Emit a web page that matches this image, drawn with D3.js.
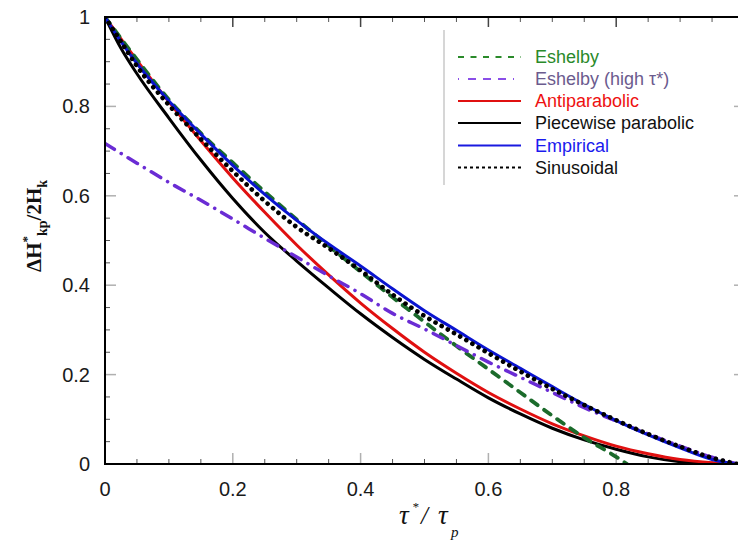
<!DOCTYPE html>
<html><head><meta charset="utf-8">
<script src="https://cdn.jsdelivr.net/npm/d3@7"></script>
<style>body{margin:0;background:#fff}svg{display:block}</style>
</head><body>
<script>
// ---- data ----
const xGrid = [0,0.025,0.05,0.1,0.15,0.2,0.25,0.3,0.35,0.4,0.45,0.5,0.55,0.6,0.65,0.7,0.75,0.8,0.85,0.9,0.95];
const piecewise   = [1,0.930,0.873,0.774,0.680,0.594,0.518,0.454,0.394,0.336,0.283,0.234,0.190,0.148,0.112,0.080,0.054,0.033,0.016,0.005,0.0];
const antiparab   = [1,0.951,0.903,0.810,0.723,0.640,0.563,0.490,0.423,0.360,0.303,0.250,0.203,0.160,0.123,0.090,0.063,0.040,0.023,0.010,0.003];
const empirical   = [1,0.945,0.896,0.812,0.738,0.668,0.603,0.545,0.492,0.443,0.392,0.343,0.299,0.255,0.214,0.173,0.133,0.097,0.065,0.036,0.010];
const sinusoidal  = [1,0.945,0.890,0.803,0.727,0.655,0.588,0.530,0.483,0.433,0.379,0.331,0.290,0.248,0.207,0.168,0.132,0.098,0.067,0.039,0.014];
const eshelbyX    = [0,0.05,0.1,0.15,0.2,0.25,0.3,0.35,0.4,0.45,0.5,0.55,0.6,0.65,0.7,0.75,0.8,0.817];
const eshelby     = [1,0.905,0.815,0.740,0.674,0.609,0.547,0.488,0.430,0.373,0.318,0.264,0.212,0.160,0.108,0.059,0.016,0.0];
const highX       = [0,0.05,0.1,0.15,0.2,0.25,0.3,0.35,0.4,0.45,0.5,0.55,0.6,0.65,0.7,0.75,0.8,0.85,0.9,0.95,0.99];
const eshelbyHigh = [0.717,0.673,0.630,0.590,0.548,0.505,0.463,0.421,0.381,0.337,0.302,0.265,0.228,0.194,0.160,0.126,0.096,0.067,0.040,0.015,0.0];
const endX = [0.985, 0.99];
const xTicks = [0,0.2,0.4,0.6,0.8];
const yTicks = [0,0.2,0.4,0.6,0.8,1];
const xTickLabels = ["0","0.2","0.4","0.6","0.8"];
const yTickLabels = ["0","0.2","0.4","0.6","0.8","1"];
const legendNames = ["Eshelby","Eshelby (high τ*)","Antiparabolic","Piecewise parabolic","Empirical","Sinusoidal"];

const W = 738, H = 544;
const svg = d3.select("body").append("svg").attr("width",W).attr("height",H);
const x = d3.scaleLinear().domain([0,1]).range([105,744]);
const y = d3.scaleLinear().domain([0,1]).range([464,17]);

const series = [
  {name:legendNames[0], xs:eshelbyX, ys:eshelby, color:"#1b6b2b", w:3.8, dash:"8,8", cap:"round", lcolor:"#2a8a2a", ldash:"6,6.5", text:"#2a8a2a"},
  {name:legendNames[1], xs:highX, ys:eshelbyHigh, color:"#6a2cd4", w:3.5, dash:"11,8,0.1,8", cap:"round", lcolor:"#8a4ee8", ldash:"1,9,8,7,8,7,8,7", text:"#6b5b8e"},
  {name:legendNames[2], xs:xGrid.concat([1]), ys:antiparab.concat([0]), color:"#e01010", w:3, dash:null, cap:"butt", lcolor:"#e01010", ldash:null, text:"#ee1111"},
  {name:legendNames[3], xs:xGrid.concat([1]), ys:piecewise.concat([0]), color:"#000", w:3, dash:null, cap:"butt", lcolor:"#000", ldash:null, text:"#111"},
  {name:legendNames[4], xs:xGrid.concat([endX[0]]), ys:empirical.concat([0]), color:"#0a14d0", w:3, dash:null, cap:"butt", lcolor:"#1a1ae0", ldash:null, text:"#1a1aee"},
  {name:legendNames[5], xs:xGrid.concat([endX[1]]), ys:sinusoidal.concat([0]), color:"#000", w:4.6, dash:"0.1,7", cap:"round", lcolor:"#000", ldash:"3,3", text:"#111"}
];

// ticks
const frame = svg.append("g");
const minor = d3.range(0,1.0001,0.05);
const isMajor = v => Math.abs(v*5 - Math.round(v*5)) < 1e-6;
minor.forEach(v=>{
  const mj = isMajor(v);
  frame.append("line").attr("x1",x(0)).attr("x2",x(0)+(mj?11:5)).attr("y1",y(v)).attr("y2",y(v))
    .attr("stroke",mj?"#b0b0b0":"#555").attr("stroke-width",mj?1.5:1);
  frame.append("line").attr("x1",x(1)).attr("x2",x(1)-(mj?10:5)).attr("y1",y(v)).attr("y2",y(v))
    .attr("stroke",mj?"#b0b0b0":"#555").attr("stroke-width",mj?1.5:1);
  frame.append("line").attr("y1",y(0)).attr("y2",y(0)-(mj?11:5)).attr("x1",x(v)).attr("x2",x(v))
    .attr("stroke",mj?"#b0b0b0":"#555").attr("stroke-width",mj?1.5:1);
  frame.append("line").attr("y1",y(1)).attr("y2",y(1)+(mj?10:5)).attr("x1",x(v)).attr("x2",x(v))
    .attr("stroke",mj?"#444":"#555").attr("stroke-width",mj?1.5:1);
});

// curves
svg.append("clipPath").attr("id","pc").append("rect")
  .attr("x",x(0)).attr("y",y(1)).attr("width",x(1)-x(0)).attr("height",y(0)-y(1));
const gC = svg.append("g").attr("clip-path","url(#pc)");
const order = [3,2,0,1,4,5];
order.forEach(i=>{
  const s = series[i];
  const pts = s.xs.map((v,k)=>[v,s.ys[k]]);
  const line = d3.line().x(d=>x(d[0])).y(d=>y(d[1])).curve(d3.curveMonotoneX);
  gC.append("path").attr("d",line(pts)).attr("fill","none").attr("stroke",s.color)
    .attr("stroke-width",s.w).attr("stroke-dasharray",s.dash).attr("stroke-linecap",s.cap)
    .attr("stroke-linejoin","round");
});

// axis lines
svg.append("line").attr("x1",x(0)).attr("x2",x(0)).attr("y1",y(1)-1).attr("y2",y(0)+1).attr("stroke","#000").attr("stroke-width",2);
svg.append("line").attr("x1",x(0)-1).attr("x2",x(1)).attr("y1",y(0)).attr("y2",y(0)).attr("stroke","#000").attr("stroke-width",2);
svg.append("line").attr("x1",x(0)-1).attr("x2",x(1)).attr("y1",y(1)).attr("y2",y(1)).attr("stroke","#000").attr("stroke-width",2);

// tick labels
const font = "'Liberation Sans', Arial, sans-serif";
svg.append("g").selectAll("text").data(xTicks).join("text")
  .attr("x",d=>x(d)).attr("y",y(0)+32).attr("text-anchor","middle")
  .attr("font-family",font).attr("font-size",20).attr("fill","#1a1a1a")
  .text((d,i)=>xTickLabels[i]);
svg.append("g").selectAll("text").data(yTicks).join("text")
  .attr("x",x(0)-15).attr("y",d=>y(d)+7).attr("text-anchor","end")
  .attr("font-family",font).attr("font-size",20).attr("fill","#1a1a1a")
  .text((d,i)=>yTickLabels[i]);

// y label
const yl = svg.append("text").attr("transform","translate(41,226) rotate(-90)")
  .attr("text-anchor","middle").attr("font-family","'Liberation Serif','Times New Roman',serif")
  .attr("font-weight","bold").attr("font-size",21).attr("fill","#111");
yl.append("tspan").text("ΔH");
yl.append("tspan").attr("font-size",13).attr("dy",-10).text("*");
yl.append("tspan").attr("font-size",14).attr("dy",16).text("kp");
yl.append("tspan").attr("dy",-6).text("/2H");
yl.append("tspan").attr("font-size",14).attr("dy",6).text("k");

// x label
const serif = "'Liberation Serif','Times New Roman',serif";
const xlab = svg.append("g").attr("font-family",serif).attr("font-style","italic").attr("fill","#111");
xlab.append("text").attr("x",399).attr("y",524).attr("font-size",27).text("τ");
xlab.append("text").attr("x",412).attr("y",511).attr("font-size",13).text("*");
xlab.append("text").attr("x",421).attr("y",524).attr("font-size",25).text("/");
xlab.append("text").attr("x",438).attr("y",524).attr("font-size",27).text("τ");
xlab.append("text").attr("x",451).attr("y",537).attr("font-size",15).text("p");

// legend
svg.append("line").attr("x1",444).attr("x2",444).attr("y1",30).attr("y2",185).attr("stroke","#c8c8c8").attr("stroke-width",1.5);
const ly = [57,79,101,123,145.5,167.5];
series.forEach((s,i)=>{
  svg.append("line").attr("x1",458).attr("x2",521).attr("y1",ly[i]).attr("y2",ly[i])
    .attr("stroke",s.lcolor).attr("stroke-width",2).attr("stroke-dasharray",s.ldash);
  svg.append("text").attr("x",535).attr("y",ly[i]+6).attr("font-family",font).attr("font-size",18)
    .attr("fill",s.text).text(s.name);
});
</script>
</body></html>
